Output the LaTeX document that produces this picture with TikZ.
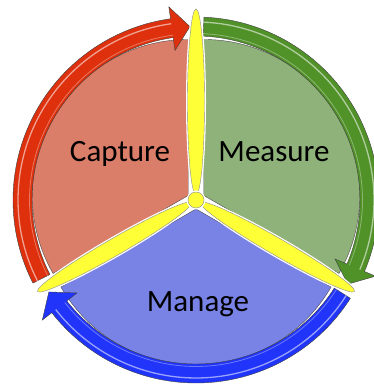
\documentclass[tikz,border=0pt]{standalone}
\usepackage{fontspec}
\setmainfont{Carlito}
\definecolor{capfill}{RGB}{218,125,105}
\definecolor{meafill}{RGB}{143,177,122}
\definecolor{manfill}{RGB}{121,131,230}
\definecolor{redband}{RGB}{222,48,12}
\definecolor{greenband}{RGB}{80,145,40}
\definecolor{blueband}{RGB}{32,52,250}
\definecolor{spokeyellow}{RGB}{255,255,55}
\newcommand\cyclearrow[4]{%
  \fill[#1, draw=black!75, line width=0.4pt]
    (#2:183) arc[start angle=#2, end angle=#3, radius=183]
    -- (#3:195) -- (#4:173.5) -- (#3:151) -- (#3:164)
    arc[start angle=#3, end angle=#2, radius=164] -- cycle;
  \draw[white, opacity=0.55, line width=1.3pt]
    (#2:178) arc[start angle=#2, end angle=#3, radius=178];
  \draw[white, opacity=0.35, line width=0.8pt]
    (#2:166.5) arc[start angle=#2, end angle=#3, radius=166.5];
}
\tikzset{
  sector/.style={draw=black!70, line width=0.4pt},
  spoke/.style={fill=spokeyellow, draw=black!45, line width=0.4pt,
    preaction={draw=white, line width=3pt}},
  label/.style={font=\fontsize{31}{37}\selectfont, text=black, anchor=base, inner sep=0pt}
}
\begin{document}
\begin{tikzpicture}[x=1pt,y=1pt]
\useasboundingbox (0,0) rectangle (373,387);
\begin{scope}[shift={(196,187)}]
  % sectors (slightly exploded)
  \filldraw[sector, fill=capfill] (150:9) -- ++(90:156)
    arc[start angle=90, end angle=210, radius=156] -- cycle;
  \filldraw[sector, fill=meafill] (30:9) -- ++(90:156)
    arc[start angle=90, end angle=-30, radius=156] -- cycle;
  \filldraw[sector, fill=manfill] (270:9) -- ++(210:156)
    arc[start angle=210, end angle=330, radius=156] -- cycle;
  % cycle arrows
  \cyclearrow{redband}{207}{98}{92}
  \cyclearrow{greenband}{87.5}{-23}{-29}
  \cyclearrow{blueband}{327.5}{218}{212}
  % spokes
  \begin{scope}[rotate=90]
    \filldraw[spoke] (98,0) ellipse[x radius=93, y radius=8.5];
  \end{scope}
  \begin{scope}[rotate=210]
    \filldraw[spoke] (94,0) ellipse[x radius=89, y radius=8.5];
  \end{scope}
  \begin{scope}[rotate=-30]
    \filldraw[spoke] (94,0) ellipse[x radius=89, y radius=8.5];
  \end{scope}
  \filldraw[spoke] (0,0) circle[radius=8];
\end{scope}
\node[label] (capture) at (120,225) {Capture};
\node[label] (measure) at (274,225) {Measure};
\node[label] (manage) at (198,75) {Manage};
\end{tikzpicture}
\end{document}
